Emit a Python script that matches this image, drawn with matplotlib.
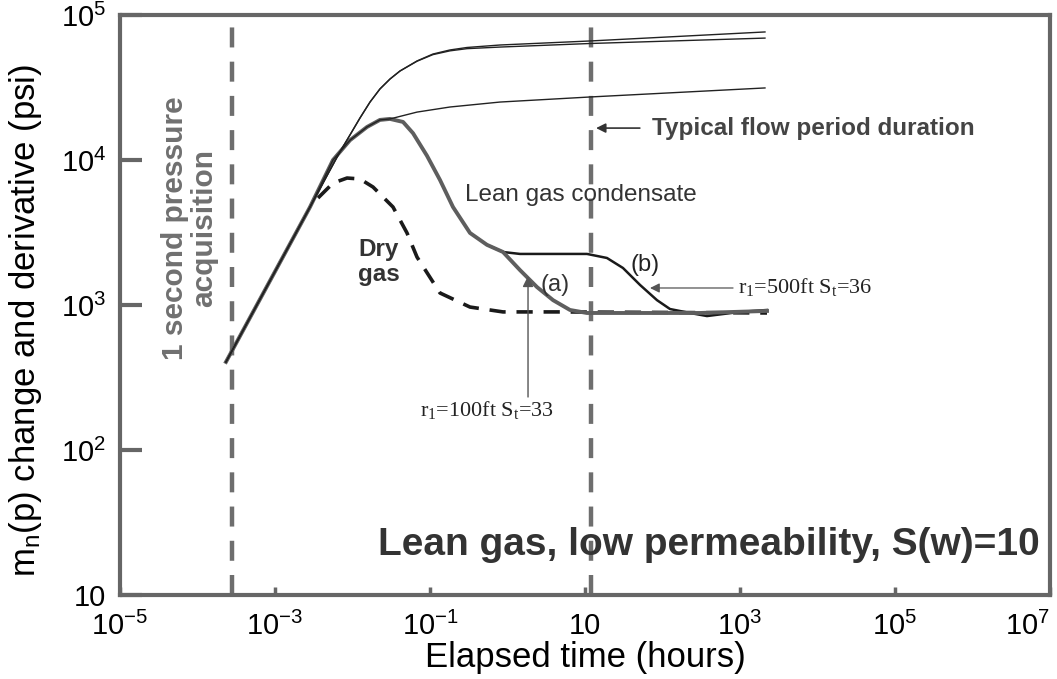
import numpy as np
import matplotlib.pyplot as plt

plt.rcParams['font.family'] = ['Liberation Sans', 'DejaVu Sans']
plt.rcParams['mathtext.fontset'] = 'custom'
plt.rcParams['mathtext.rm'] = 'Liberation Sans'
plt.rcParams['mathtext.it'] = 'Liberation Sans:italic'
plt.rcParams['mathtext.bf'] = 'Liberation Sans:bold'

# derivative, lean gas condensate case (a), r1=100 ft
t_a = [2.33e-4, 2.83e-3, 5.6e-3, 9.29e-3, 0.0154, 0.0226, 0.0305, 0.0449,
       0.0604, 0.0914, 0.1346, 0.198, 0.328, 0.543, 0.875, 1.45, 2.40,
       3.87, 6.4, 10.6, 28.3, 305, 2230]
d_a = [405, 4740, 10000, 13700, 16900, 18900, 19200, 18300,
       15300, 10700, 7280, 4740, 3140, 2600, 2320, 1740, 1330,
       1080, 924, 881, 881, 881, 910]

# derivative, case (b), r1=500 ft
t_b = [0.543, 0.875, 1.45, 10.6, 19.2, 30.9, 51.3, 84.9, 125, 226, 375, 1000, 2230]
d_b = [2600, 2320, 2250, 2250, 2110, 1800, 1375, 1080, 938, 881, 839, 896, 924]

# derivative, dry gas
t_dry = [3.59e-3, 5.6e-3, 8.5e-3, 0.0125, 0.0184, 0.0333, 0.0505, 0.068,
         0.1346, 0.328, 0.875, 4.76, 2230]
d_dry = [5470, 6930, 7510, 7400, 6510, 4740, 3140, 2140,
         1210, 968, 896, 896, 881]

# pressure change curves
t_p = [2.33e-4, 6.9e-3, 9.29e-3, 0.0125, 0.01683, 0.0226, 0.0305, 0.041,
       0.068, 0.109, 0.181, 0.30, 0.80, 11.6, 2100]
dp_1 = [405, 11400, 14900, 19500, 25100, 30900, 36200, 41100,
        48200, 53800, 57400, 59700, 62100, 66200, 76400]
dp_2 = [405, 11400, 14900, 19500, 25100, 30900, 36200, 41100,
        48000, 53300, 56600, 58600, 60100, 63600, 69300]
t_p3 = [2.33e-4, 2.83e-3, 5.6e-3, 9.29e-3, 0.0154, 0.0226, 0.0305, 0.068,
        0.181, 0.80, 11.6, 2100]
dp_3 = [405, 4740, 10000, 13700, 16900, 18900, 19200, 21400,
        23200, 25100, 27200, 31400]

t_1sec = 2.78e-4   # 1 second
t_flow = 12.0      # typical flow period

xticks = [1e-5, 1e-3, 1e-1, 10, 1e3, 1e5, 1e7]
xlabels = ['$\\mathregular{10^{-5}}$', '$\\mathregular{10^{-3}}$', '$\\mathregular{10^{-1}}$',
           '10', '$\\mathregular{10^{3}}$', '$\\mathregular{10^{5}}$', '$\\mathregular{10^{7}}$']
yticks = [10, 1e2, 1e3, 1e4, 1e5]
ylabels = ['10', '$\\mathregular{10^{2}}$', '$\\mathregular{10^{3}}$',
           '$\\mathregular{10^{4}}$', '$\\mathregular{10^{5}}$']

fig = plt.figure(figsize=(10.57, 6.79), dpi=100)
ax = fig.add_axes([120 / 1057, 1 - 595 / 679, 930 / 1057, 580 / 679])
ax.set_xscale('log')
ax.set_yscale('log')
ax.set_xlim(1e-5, 1e7)
ax.set_ylim(10, 1e5)

grey = '#5e5e5e'
ax.axvline(t_1sec, color='#6e6e6e', lw=3.2, dashes=(4.5, 3.2), ymax=0.985)
ax.axvline(t_flow, color='#6e6e6e', lw=3.2, dashes=(4.5, 3.2), ymax=0.985)

ax.plot(t_dry, d_dry, color='#1a1a1a', lw=2.6, dashes=(4.5, 3.0))
ax.plot(t_b, d_b, color='#1a1a1a', lw=1.8)
ax.plot(t_a, d_a, color=grey, lw=2.8)
ax.plot(t_p, dp_1, color='#222222', lw=1.0)
ax.plot(t_p, dp_2, color='#222222', lw=1.0)
ax.plot(t_p3, dp_3, color='#222222', lw=1.0)

for s in ax.spines.values():
    s.set_color('#666666')
    s.set_linewidth(3)
ax.set_xticks(xticks)
ax.set_xticklabels(xlabels)
ax.set_yticks(yticks)
ax.set_yticklabels(ylabels)
ax.minorticks_off()
ax.tick_params(axis='x', direction='in', length=6, width=2.5, color='#666666',
               labelsize=21, pad=12)
ax.tick_params(axis='y', direction='in', length=16, width=3, color='#666666',
               labelsize=21, pad=10)
ax.get_xticklabels()[-1].set_horizontalalignment('right')
ax.get_xticklabels()[-1].set_x(1.0)
ax.set_xlabel('Elapsed time (hours)', fontsize=25, labelpad=0)
ax.set_ylabel('$\\mathregular{m_n(p)}$ change and derivative (psi)', fontsize=25)
ax.yaxis.set_label_coords(-0.082, 0.474)

ax.text(8e-5, 3400, '1 second pressure\nacquisition', rotation=90, ha='center',
        va='center', fontsize=21.5, fontweight='bold', color='#707070', linespacing=1.05)
ax.annotate('', xy=(13.9, 16600), xytext=(51, 16600),
            arrowprops=dict(arrowstyle='-|>', color='#333333', lw=1.2,
                            mutation_scale=14, shrinkA=0, shrinkB=0))
ax.text(73, 16600, 'Typical flow period duration', ha='left', va='center',
        fontsize=17.5, fontweight='bold', color='#444444')
ax.text(0.283, 5740, 'Lean gas condensate', ha='left', va='center',
        fontsize=17.5, color='#333333')
ax.text(0.01178, 1980, 'Dry\ngas', ha='left', va='center', fontsize=17.5,
        fontweight='bold', color='#333333', linespacing=1.15)
ax.text(4.1, 1375, '(a)', ha='center', va='center', fontsize=17, color='#333333')
ax.text(59.4, 1890, '(b)', ha='center', va='center', fontsize=17, color='#222222')

ax.annotate('', xy=(69, 1310), xytext=(813, 1310),
            arrowprops=dict(arrowstyle='-|>', color='#555555', lw=0.9,
                            mutation_scale=14, shrinkA=0, shrinkB=0))
ax.text(942, 1330, '$\\mathregular{r_1}$=500ft $\\mathregular{S_t}$=36', ha='left', va='center',
        fontsize=16, family='Liberation Serif', color='#222222')
ax.annotate('', xy=(1.84, 1585), xytext=(1.84, 232),
            arrowprops=dict(arrowstyle='-|>', color='#555555', lw=1.0,
                            mutation_scale=16, shrinkA=0, shrinkB=0))
ax.text(0.0743, 189, '$\\mathregular{r_1}$=100ft $\\mathregular{S_t}$=33', ha='left', va='center',
        fontsize=16, family='Liberation Serif', color='#222222')

ax.text(0.989, 0.086, 'Lean gas, low permeability, S(w)=10', transform=ax.transAxes,
        ha='right', va='center', fontsize=28, fontweight='bold', color='#333333')

fig.savefig('out.png', dpi=100)
